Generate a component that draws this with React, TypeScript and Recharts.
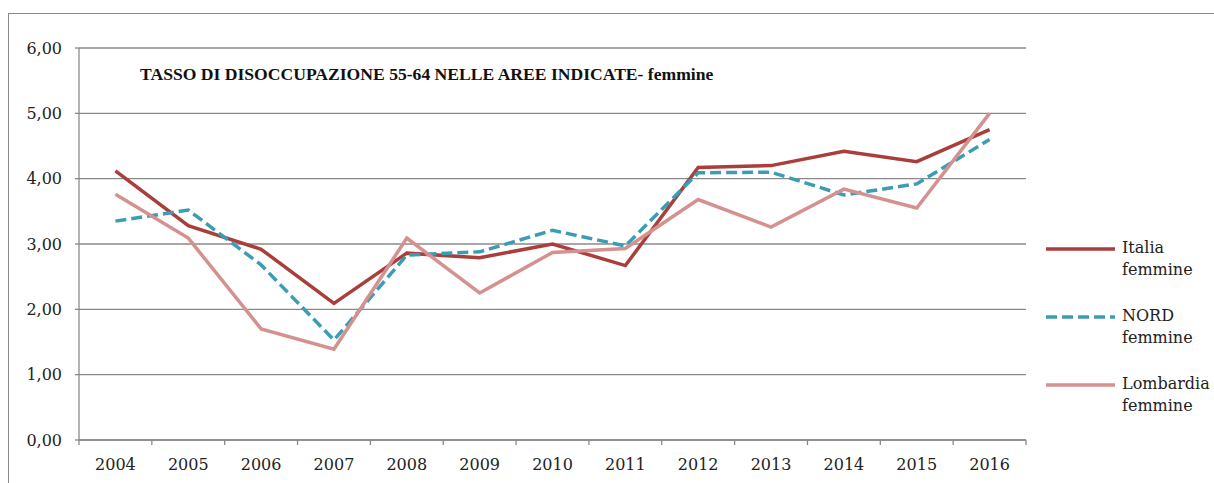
import { LineChart, Line, XAxis, YAxis, CartesianGrid } from 'recharts'

// anni e valori (tasso di disoccupazione 55-64, femmine)
const years = ['2004', '2005', '2006', '2007', '2008', '2009', '2010', '2011', '2012', '2013', '2014', '2015', '2016']
const italia = [4.12, 3.28, 2.92, 2.09, 2.86, 2.79, 3.0, 2.67, 4.17, 4.2, 4.42, 4.26, 4.75]
const nord = [3.35, 3.52, 2.68, 1.53, 2.83, 2.88, 3.21, 2.97, 4.09, 4.1, 3.75, 3.92, 4.6]
const lombardia = [3.76, 3.09, 1.7, 1.39, 3.09, 2.25, 2.87, 2.93, 3.68, 3.26, 3.84, 3.55, 5.0]
const yTicks = [0, 1, 2, 3, 4, 5, 6]

const series = [
  { key: 'italia', name: ['Italia', 'femmine'], color: '#A93E3B', dash: undefined },
  { key: 'nord', name: ['NORD', 'femmine'], color: '#3C9CB3', dash: '11 5' },
  { key: 'lombardia', name: ['Lombardia', 'femmine'], color: '#D4918F', dash: undefined },
]

const data = years.map((year, i) => ({
  year,
  italia: italia[i],
  nord: nord[i],
  lombardia: lombardia[i],
}))

const W = 1214
const H = 483
const margin = { top: 48, right: 188, bottom: 0, left: 0 }
const yAxisWidth = 79
const xAxisHeight = 43
const plotWidth = W - margin.left - margin.right - yAxisWidth
const step = plotWidth / years.length

const FONT = '"DejaVu Serif", serif'

function YearTick(props: any) {
  const { x, y, payload, index } = props
  const half = step / 2
  return (
    <g>
      <line x1={x - half} y1={y} x2={x - half} y2={y + 5} stroke="#888" strokeWidth={1.3} />
      {index === years.length - 1 && (
        <line x1={x + half} y1={y} x2={x + half} y2={y + 5} stroke="#888" strokeWidth={1.3} />
      )}
      <text x={x} y={y + 30} textAnchor="middle" fontFamily={FONT} fontSize={16} fill="#222">
        {payload.value}
      </text>
    </g>
  )
}

function LegendBox() {
  return (
    <div style={{ fontFamily: FONT, fontSize: 16, color: '#222' }}>
      {series.map((s) => (
        <div key={s.key} style={{ display: 'flex', alignItems: 'flex-start', height: 68 }}>
          <svg width={76} height={22}>
            <line
              x1={0}
              y1={12}
              x2={69}
              y2={12}
              stroke={s.color}
              strokeWidth={3.5}
              strokeDasharray={s.dash}
            />
          </svg>
          <div style={{ lineHeight: '22px' }}>
            {s.name[0]}
            <br />
            {s.name[1]}
          </div>
        </div>
      ))}
    </div>
  )
}

export default function App() {
  return (
    <div style={{ position: 'absolute', left: 0, top: 0, width: W, height: H, background: '#fff', overflow: 'hidden' }}>
      <div
        style={{
          position: 'absolute',
          left: 8,
          top: 13,
          width: W,
          height: H,
          borderLeft: '1.5px solid #8a8a8a',
          borderTop: '1.5px solid #8a8a8a',
        }}
      />
      <div style={{ position: 'absolute', left: 0, top: 0 }}>
        <LineChart width={W} height={H} data={data} margin={margin}>
          <CartesianGrid vertical={false} stroke="#8a8a8a" strokeWidth={1.3} />
          <XAxis
            dataKey="year"
            height={xAxisHeight}
            padding={{ left: step / 2, right: step / 2 }}
            axisLine={{ stroke: '#8a8a8a', strokeWidth: 1.3 }}
            tickLine={false}
            tickSize={0}
            tickMargin={0}
            tick={<YearTick />}
            interval={0}
          />
          <YAxis
            width={yAxisWidth}
            domain={[0, 6]}
            ticks={yTicks}
            axisLine={{ stroke: '#8a8a8a', strokeWidth: 1.3 }}
            tickLine={{ stroke: '#8a8a8a', strokeWidth: 1.3 }}
            tickSize={4}
            tickMargin={13}
            tickFormatter={(v: number) => v.toFixed(2).replace('.', ',')}
            tick={{ fontFamily: FONT, fontSize: 16, fill: '#222' }}
          />
          {series.map((s) => (
            <Line
              key={s.key}
              type="linear"
              dataKey={s.key}
              stroke={s.color}
              strokeWidth={3.5}
              strokeDasharray={s.dash}
              dot={false}
              isAnimationActive={false}
            />
          ))}
        </LineChart>
      </div>
      <div
        style={{
          position: 'absolute',
          left: 140,
          top: 64,
          fontFamily: '"Liberation Serif", serif',
          fontWeight: 'bold',
          fontSize: 17.6,
          color: '#111',
          whiteSpace: 'nowrap',
        }}
      >
        TASSO DI DISOCCUPAZIONE 55-64 NELLE AREE INDICATE- femmine
      </div>
      <div style={{ position: 'absolute', left: 1046, top: 237 }}>
        <LegendBox />
      </div>
    </div>
  )
}
